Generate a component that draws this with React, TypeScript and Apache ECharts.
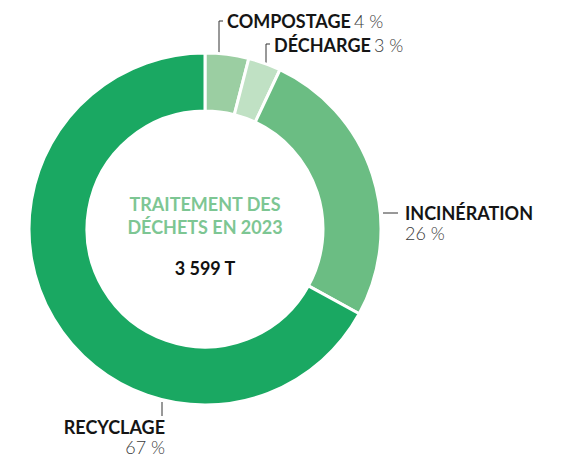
import React, { useEffect, useRef } from "react";
import * as echarts from "echarts";

const categories = ["COMPOSTAGE", "DÉCHARGE", "INCINÉRATION", "RECYCLAGE"];
const shares = [4, 3, 26, 67];
const sliceColors = ["#9bcea2", "#c0e1c4", "#6bbd83", "#1aa862"];
const centerTitleLines = ["TRAITEMENT DES", "DÉCHETS EN 2023"];
const centerTotal = "3 599 T";

const FONT = "Lato, 'Noto Sans', sans-serif";

export default function App() {
  const ref = useRef<HTMLDivElement>(null);
  useEffect(() => {
    document.body.style.margin = "0";
    const chart = echarts.init(ref.current!, undefined, { renderer: "svg" });
    const cx = 205;
    const cy = 229;
    const rOuter = 176;
    const labelPlacement = [
      { x: 227, y: 21, align: "left", pts: [[219, 53], [219, 21], [223, 21]] },
      { x: 274, y: 45, align: "left", pts: [[266, 63], [266, 44], [270, 44]] },
      { x: 405, y: 223, align: "left", pts: [[383, 213], [398, 213]] },
      { x: 165, y: 437, align: "right", pts: [[162, 402], [162, 416]] },
    ];
    chart.setOption({
      animation: false,
      graphic: [
        {
          type: "text",
          x: cx,
          y: 215,
          style: {
            text: centerTitleLines.join("\n"),
            fill: "#7dc693",
            font: `bold 18px ${FONT}`,
            lineHeight: 23,
            textAlign: "center",
            textVerticalAlign: "middle",
          },
        },
        {
          type: "text",
          x: cx,
          y: 268,
          style: {
            text: centerTotal,
            fill: "#111",
            font: `bold 18px ${FONT}`,
            textAlign: "center",
            textVerticalAlign: "middle",
          },
        },
      ],
      series: [
        {
          type: "pie",
          center: [cx, cy],
          radius: [118, rOuter],
          startAngle: 90,
          clockwise: true,
          avoidLabelOverlap: false,
          minShowLabelAngle: 0,
          itemStyle: { borderColor: "#fff", borderWidth: 3 },
          label: {
            show: true,
            position: "outside",
            overflow: "none",
            fontFamily: FONT,
            formatter: (p: any) => {
              const i = p.dataIndex;
              if (i < 2) return `{n|${p.name}} {v|${p.value} %}`;
              return `{n|${p.name}}\n{v|${p.value} %}`;
            },
            rich: {
              n: { fontFamily: FONT, fontWeight: "bold", fontSize: 18, color: "#151515", lineHeight: 20 },
              v: { fontFamily: FONT, fontWeight: 300, fontSize: 18, color: "#3a3a3a", lineHeight: 20 },
            },
          },
          labelLine: {
            show: true,
            lineStyle: { color: "#333", width: 1 },
          },
          labelLayout: (params: any) => {
            const lp = labelPlacement[params.dataIndex];
            return {
              x: lp.x,
              y: lp.y,
              align: lp.align,
              verticalAlign: "middle",
              labelLinePoints: lp.pts,
            };
          },
          data: categories.map((name, i) => ({
            name,
            value: shares[i],
            itemStyle: { color: sliceColors[i] },
            label: { align: labelPlacement[i].align },
          })),
        },
      ],
    });
    return () => chart.dispose();
  }, []);
  return <div ref={ref} style={{ width: 564, height: 458 }} />;
}
